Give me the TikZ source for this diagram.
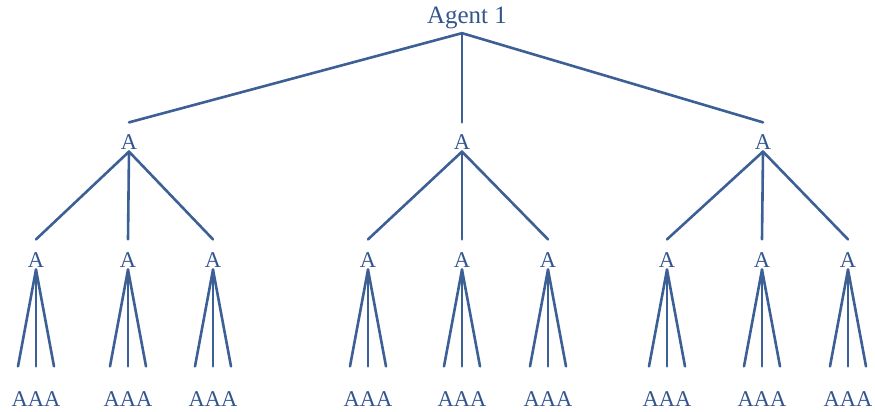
\documentclass[tikz,border=0pt]{standalone}
\usepackage{fontspec}
\setmainfont{Liberation Serif}
\definecolor{treeblue}{HTML}{3C5F96}
\definecolor{labelblue}{HTML}{33558E}
\begin{document}
\begin{tikzpicture}[x=1pt,y=-1pt,
  lbl/.style={inner sep=0pt, text=labelblue, font=\fontsize{22.5}{22.5}\selectfont},
  rootlbl/.style={lbl, font=\fontsize{25}{25}\selectfont},
  branch/.style={draw=treeblue, line width=2.6pt, line cap=round}]
\useasboundingbox (0,0) rectangle (875,412);

% root
\node[rootlbl] (r) at (467,18) {Agent 1};

% first level
\foreach \i/\x in {1/129,2/462,3/763}{
  \node[lbl] (a\i) at (\x,142) {A};
  \draw[branch] ([xshift=-5pt,yshift=-4pt]r.south) -- ([yshift=12pt]a\i.north);
}

% second level and leaves
\foreach \i/\xa/\xb/\xc in {1/36/128/213,2/368/462/548,3/667/762/848}{
  \foreach \j/\x in {1/\xa,2/\xb,3/\xc}{
    \node[lbl] (b\i\j) at (\x,260) {A};
    \draw[branch] ([yshift=-2pt]a\i.south) -- ([yshift=13pt]b\i\j.north);
    \node[lbl] (c\i\j) at (\x,399) {AAA};
    \foreach \dx in {-18,0,18}{
      \draw[branch] ([yshift=-2pt]b\i\j.south) -- ([xshift=\dx pt,yshift=25pt]c\i\j.north);
    }
  }
}
\end{tikzpicture}
\end{document}
